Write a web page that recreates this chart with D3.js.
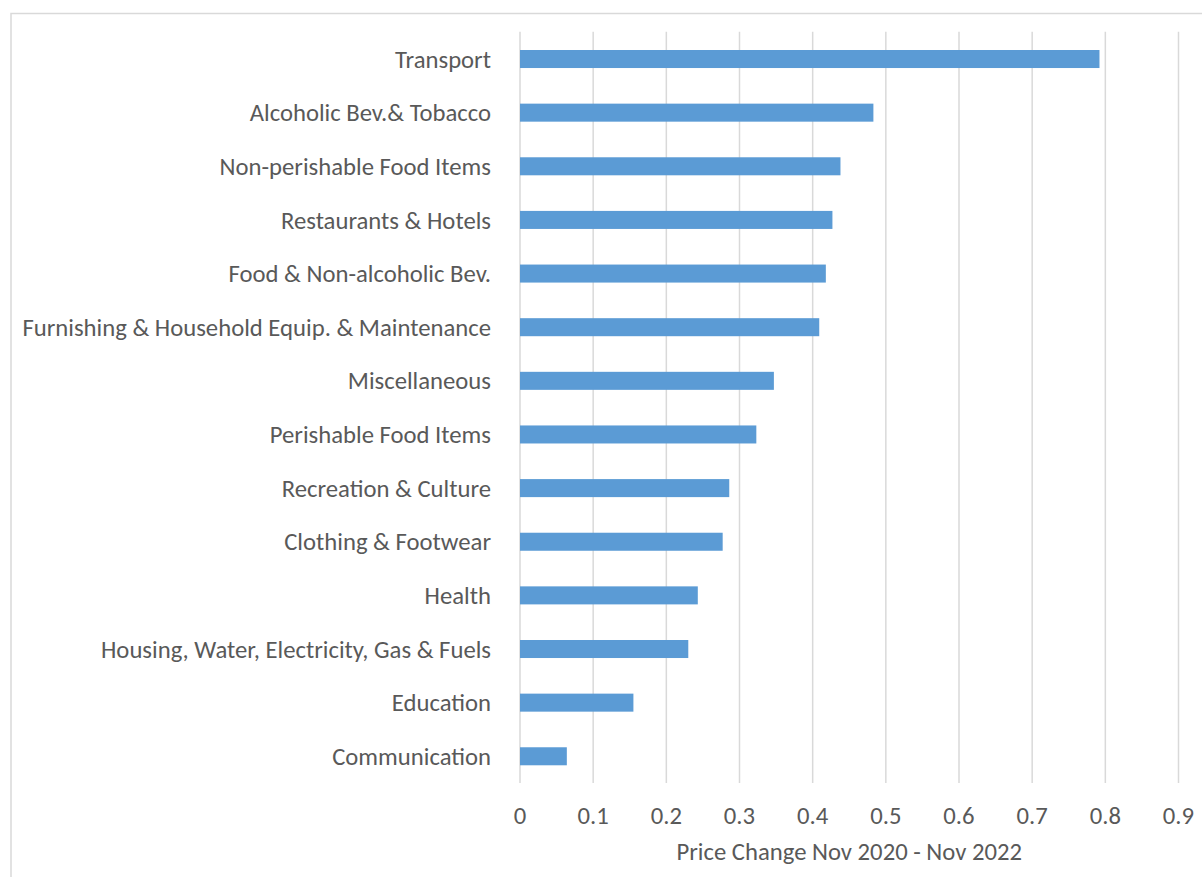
<html>
<head>
<meta charset="utf-8">
<script src="https://cdn.jsdelivr.net/npm/d3@7"></script>
<style>
  body { margin: 0; background: #fff; }
  text { font-family: Carlito, Calibri, Lato, "Open Sans", sans-serif; fill: #595959; }
</style>
</head>
<body>
<div id="chart"></div>
<script>
// categories top to bottom
var categories = ["Transport", "Alcoholic Bev.& Tobacco", "Non-perishable Food Items",
  "Restaurants & Hotels", "Food & Non-alcoholic Bev.", "Furnishing & Household Equip. & Maintenance",
  "Miscellaneous", "Perishable Food Items", "Recreation & Culture", "Clothing & Footwear",
  "Health", "Housing, Water, Electricity, Gas & Fuels", "Education", "Communication"];
var priceChange = [0.792, 0.483, 0.438, 0.427, 0.418, 0.409, 0.347, 0.323, 0.286, 0.277,
  0.243, 0.230, 0.155, 0.064];
var xTicks = [0, 0.1, 0.2, 0.3, 0.4, 0.5, 0.6, 0.7, 0.8, 0.9];
var xTitle = "Price Change Nov 2020 - Nov 2022";

var W = 1202, H = 877;
var svg = d3.select("#chart").append("svg").attr("width", W).attr("height", H);

// chart border (runs off the right and bottom of the picture)
svg.append("rect")
  .attr("x", 11).attr("y", 13.5).attr("width", W + 20).attr("height", H + 20)
  .attr("fill", "none").attr("stroke", "#d9d9d9").attr("stroke-width", 1.5);

var x = d3.scaleLinear().domain([0, 0.9]).range([520, 1178.5]);
var y = d3.scaleBand().domain(categories).range([32.2, 783.1])
  .paddingInner(0.664).paddingOuter(0.332);

// work out a font size so the longest label has the width seen in the picture
var probe = svg.append("text").style("font-size", "20px")
  .text("Furnishing & Household Equip. & Maintenance");
var fs = 20 * 469 / probe.node().getComputedTextLength();
probe.remove();

// vertical gridlines
svg.append("g").selectAll("line")
  .data(xTicks)
  .enter().append("line")
    .attr("x1", function (d) { return x(d); })
    .attr("x2", function (d) { return x(d); })
    .attr("y1", 31.7).attr("y2", 783)
    .attr("stroke", "#d9d9d9").attr("stroke-width", 1.5);

// bars
svg.append("g").selectAll("rect")
  .data(categories)
  .enter().append("rect")
    .attr("x", x(0))
    .attr("y", function (d) { return y(d); })
    .attr("width", function (d, i) { return x(priceChange[i]) - x(0); })
    .attr("height", y.bandwidth())
    .attr("fill", "#5b9bd5");

// category labels
svg.append("g").selectAll("text")
  .data(categories)
  .enter().append("text")
    .attr("x", 491)
    .attr("y", function (d) { return y(d) + y.bandwidth() / 2; })
    .attr("dy", "0.35em")
    .attr("text-anchor", "end")
    .style("font-size", fs + "px")
    .text(function (d) { return d; });

// x tick labels
svg.append("g").selectAll("text")
  .data(xTicks)
  .enter().append("text")
    .attr("x", function (d) { return x(d); })
    .attr("y", 815)
    .attr("dy", "0.35em")
    .attr("text-anchor", "middle")
    .style("font-size", fs + "px")
    .text(function (d) { return d3.format("")(d); });

// axis title
svg.append("text")
  .attr("x", (x(0) + x(0.9)) / 2)
  .attr("y", 851.5)
  .attr("dy", "0.35em")
  .attr("text-anchor", "middle")
  .style("font-size", fs + "px")
  .text(xTitle);
</script>
</body>
</html>
